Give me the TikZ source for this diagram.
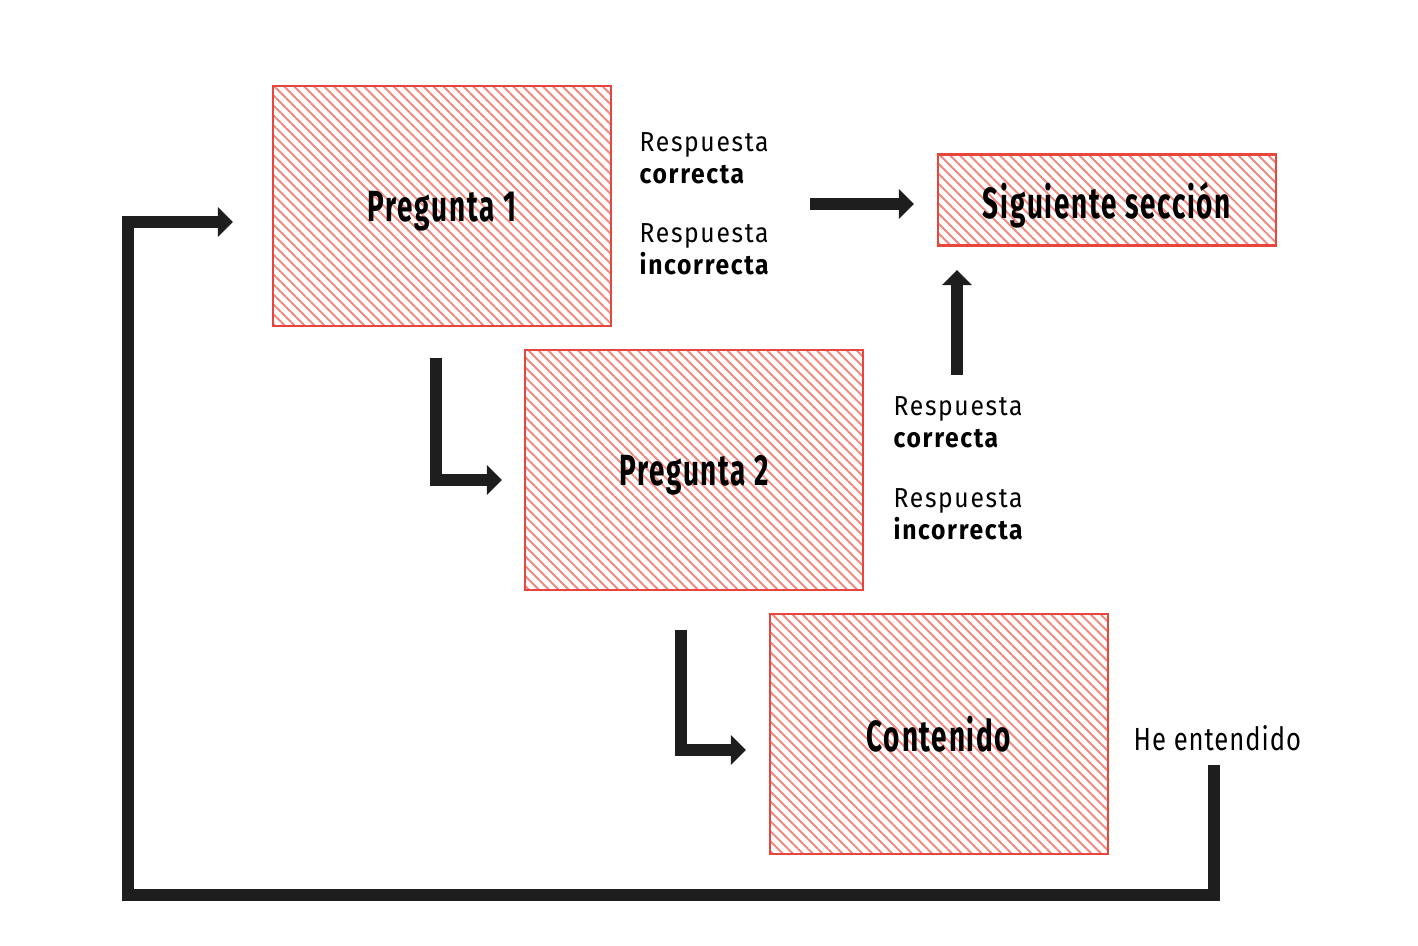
\documentclass[tikz,border=0pt]{standalone}
\usepackage{fontspec}
\setmainfont{Fira Sans}[FakeStretch=0.8, LetterSpace=3]
\newfontfamily\titlefont{Fira Sans}[FakeStretch=0.64, LetterSpace=4]
\newfontfamily\labelfont{Fira Sans}[FakeStretch=0.9, LetterSpace=6]
\usepackage{tikz}
\usetikzlibrary{arrows.meta}
\usetikzlibrary{patterns.meta}
\usetikzlibrary{positioning}
\definecolor{boxred}{RGB}{232,70,60}
\definecolor{hatchred}{RGB}{240,135,125}
\definecolor{barblack}{RGB}{30,30,30}
\tikzset{>={Triangle[length=4.3pt, width=8.3pt]}}
\tikzstyle{qbox} = [draw=boxred, line width=0.6pt, pattern={Lines[angle=-45, distance=2pt, line width=0.55pt]}, pattern color=hatchred, minimum width=3.38cm, minimum height=2.39cm, text depth=0pt, font=\titlefont\bfseries\fontsize{12.4}{15}\selectfont]
\tikzstyle{answer} = [anchor=north west, inner sep=0, align=left, font=\labelfont\fontsize{7.8}{9}\selectfont]
\tikzstyle{flow} = [->, draw=barblack, line width=3.4pt]

\begin{document}
\begin{tikzpicture}[x=0.01cm, y=-0.01cm]
\useasboundingbox (0, 0) rectangle (1418, 946);
\node [qbox]  (q1) at (442, 206) {Pregunta 1};
\node [qbox]  (q2) at (694, 470) {Pregunta 2};
\node [qbox]  (content) at (939, 734) {Contenido};
\node [qbox, minimum height=0.91cm]  (next) at (1107, 200) {Siguiente sección};
\node [answer]  (q1ok) at (639, 132) {Respuesta\\\textbf{correcta}};
\node [answer]  (q1ko) at (639, 223) {Respuesta\\\textbf{incorrecta}};
\node [answer]  (q2ok) at (893, 396) {Respuesta\\\textbf{correcta}};
\node [answer]  (q2ko) at (893, 488) {Respuesta\\\textbf{incorrecta}};
\node [anchor=base west, inner sep=0, font=\fontsize{9.1}{11}\selectfont]  (done) at (1133, 750) {He entendido};
\coordinate (a1s) at (810, 204);
\coordinate (a1e) at (914, 204);
\coordinate (a2s) at (957, 375);
\coordinate (a2e) at (957, 270);
\coordinate (a3s) at (436, 358);
\coordinate (a3e) at (502, 480);
\coordinate (a4s) at (681, 630);
\coordinate (a4e) at (746, 750);
\coordinate (a5s) at (1214, 765);
\coordinate (a5e) at (233, 222);
\draw [flow] (a1s) to (a1e);
\draw [flow] (a2s) to (a2e);
\draw [flow] (a3s) |- (a3e);
\draw [flow] (a4s) |- (a4e);
\draw [flow] (a5s) -- (1214, 895) -| (128, 222) -- (a5e);
\end{tikzpicture}
\end{document}
